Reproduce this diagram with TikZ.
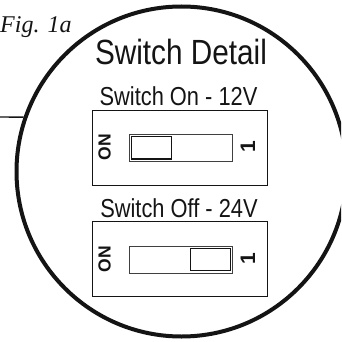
\documentclass[tikz,border=0pt]{standalone}
\usepackage{fontspec}
\setmainfont{Liberation Serif}
\setsansfont{Liberation Sans}
\usetikzlibrary{calc}

\tikzset{
  ink/.style={color=black!92},
  title/.style={ink,font=\sffamily\fontsize{35}{35}\selectfont,xscale=0.85,inner sep=0pt,anchor=base},
  caption/.style={ink,font=\sffamily\fontsize{26}{26}\selectfont,xscale=0.84,inner sep=0pt,anchor=base},
  swbox/.style={draw,ink,line width=0.9pt,minimum width=175pt,minimum height=75pt,inner sep=0pt},
  slot/.style={draw,black!75,line width=0.9pt,minimum width=103pt,minimum height=27pt,inner sep=0pt},
  knob/.style={draw,ink,line width=1.1pt,minimum width=40pt,minimum height=22.5pt,inner sep=0pt},
  onmark/.style={ink,font=\sffamily\bfseries\fontsize{17.5}{17.5}\selectfont,rotate=90,inner sep=0pt},
  onemark/.style={ink,font=\sffamily\bfseries\fontsize{21}{21}\selectfont,rotate=90,inner sep=0pt}
}

\begin{document}
\begin{tikzpicture}[x=1pt,y=-1pt]
          \useasboundingbox (0,0) rectangle (341,342);
          \clip (0,0) rectangle (341,342);
          % detail circle and its lead
          \node[draw,ink,circle,line width=4pt,minimum size=330pt,inner sep=0pt] (detail) at (181.5,171.5){};
          \coordinate (lead) at (0,117);
          \draw[ink,line width=1.4pt] (lead) -- (detail.161.5);
          \node[ink,font=\itshape\fontsize{24}{24}\selectfont,inner sep=0pt,anchor=base west] (fig) at (0,33){Fig. 1a};
          \node[title] (head) at (181,65){Switch Detail};
          % switch on
          \node[caption] (oncap) at (178.5,106){Switch On - 12V};
          \node[swbox] (onbox) at (179.5,147.5){};
          \node[slot] (onslot) at (181,147.5){};
          \node[knob] (onknob) at (151.5,147.75){};
          \node[onmark] (onlabel) at (104.5,147){ON};
          \node[onemark] (onone) at (248,146.5){1};
          % switch off
          \node[caption] (offcap) at (179,217){Switch Off - 24V};
          \node[swbox] (offbox) at (179.5,259){};
          \node[slot] (offslot) at (181,259.5){};
          \node[knob] (offknob) at (210.5,259.5){};
          \node[onmark] (offlabel) at (104.5,259){ON};
          \node[onemark] (offone) at (248,258.5){1};
        \end{tikzpicture}
\end{document}
